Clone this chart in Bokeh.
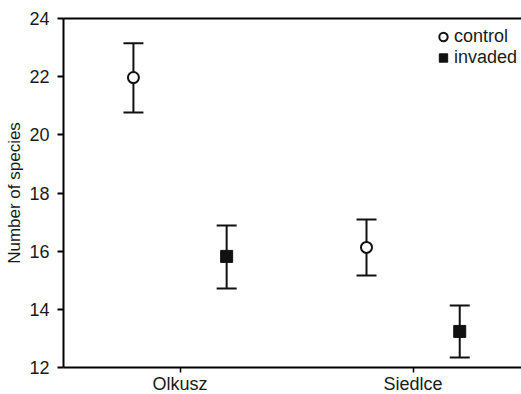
import numpy as np
from bokeh.plotting import figure
from bokeh.models import (ColumnDataSource, Whisker, TeeHead, LinearAxis, FixedTicker,
                          Range1d, Legend, LegendItem)
from bokeh.transform import dodge
from bokeh.embed import file_html
from bokeh.resources import INLINE

sites = ["Olkusz", "Siedlce"]
control_mean = [21.97, 16.13]
control_upper = [23.15, 17.09]
control_lower = [20.77, 15.16]
invaded_mean = [15.82, 13.24]
invaded_upper = [16.88, 14.13]
invaded_lower = [14.72, 12.34]
y_ticks = [12, 14, 16, 18, 20, 22, 24]

xi = list(np.arange(len(sites)) + 0.5)
src_c = ColumnDataSource(dict(x=xi, m=control_mean, u=control_upper, l=control_lower))
src_i = ColumnDataSource(dict(x=xi, m=invaded_mean, u=invaded_upper, l=invaded_lower))

FONT = "Liberation Sans"
TXT = "#1a1a1a"

p = figure(width=521, height=394, frame_width=458, frame_height=349,
           x_range=Range1d(0, 1.965), y_range=Range1d(12, 24),
           output_backend="svg", toolbar_location=None,
           min_border_left=63, min_border_right=0, min_border_top=18, min_border_bottom=0)
p.outline_line_color = None
p.xgrid.grid_line_color = None
p.ygrid.grid_line_color = None
p.background_fill_color = "white"
p.border_fill_color = "white"

for ax in (p.xaxis[0], p.yaxis[0]):
    ax.axis_line_width = 2
    ax.axis_line_color = "black"
    ax.major_tick_line_width = 2
    ax.major_tick_line_color = "black"
    ax.major_tick_out = 6
    ax.major_tick_in = 0
    ax.minor_tick_line_color = None
    ax.major_label_text_font = FONT
    ax.major_label_text_font_size = "18px"
    ax.major_label_text_color = TXT

p.xaxis[0].ticker = FixedTicker(ticks=xi)
p.xaxis[0].major_label_overrides = {float(v): s for v, s in zip(xi, sites)}
p.xaxis[0].major_tick_line_width = 1.5
p.xaxis[0].major_tick_out = 5
p.xaxis[0].major_label_standoff = 1
p.yaxis[0].ticker = FixedTicker(ticks=y_ticks)
p.yaxis[0].major_label_standoff = 8
p.yaxis[0].axis_label = "Number of species"
p.yaxis[0].axis_label_text_font = FONT
p.yaxis[0].axis_label_text_font_size = "17px"
p.yaxis[0].axis_label_text_font_style = "normal"
p.yaxis[0].axis_label_text_color = TXT
p.yaxis[0].axis_label_standoff = 2

top = LinearAxis(ticker=FixedTicker(ticks=[]), axis_line_width=2, axis_line_color="black",
                 major_tick_line_color=None, minor_tick_line_color=None,
                 major_label_text_font_size="0px")
p.add_layout(top, "above")

for src, off in ((src_c, -0.2), (src_i, 0.2)):
    w = Whisker(source=src, base=dodge("x", off), upper="u", lower="l", dimension="height",
                line_width=2, line_color="#111111",
                upper_head=TeeHead(size=20, line_width=2, line_color="#111111"),
                lower_head=TeeHead(size=20, line_width=2, line_color="#111111"))
    p.add_layout(w)

rc = p.scatter(x=dodge("x", -0.2), y="m", source=src_c, marker="circle", size=11,
               fill_color="white", line_color="#111111", line_width=2)
ri = p.scatter(x=dodge("x", 0.2), y="m", source=src_i, marker="square", size=12,
               fill_color="#111111", line_color="#111111", line_width=1)

legend = Legend(items=[LegendItem(label="control", renderers=[rc]),
                       LegendItem(label="invaded", renderers=[ri])],
                location=(369, 299), border_line_color=None, background_fill_alpha=0,
                label_text_font=FONT, label_text_font_size="18px", label_text_color=TXT,
                glyph_width=22, glyph_height=21, label_standoff=0, spacing=0,
                padding=3, margin=0, label_height=21)
p.add_layout(legend)

open("out.html", "w").write(file_html(p, INLINE))
